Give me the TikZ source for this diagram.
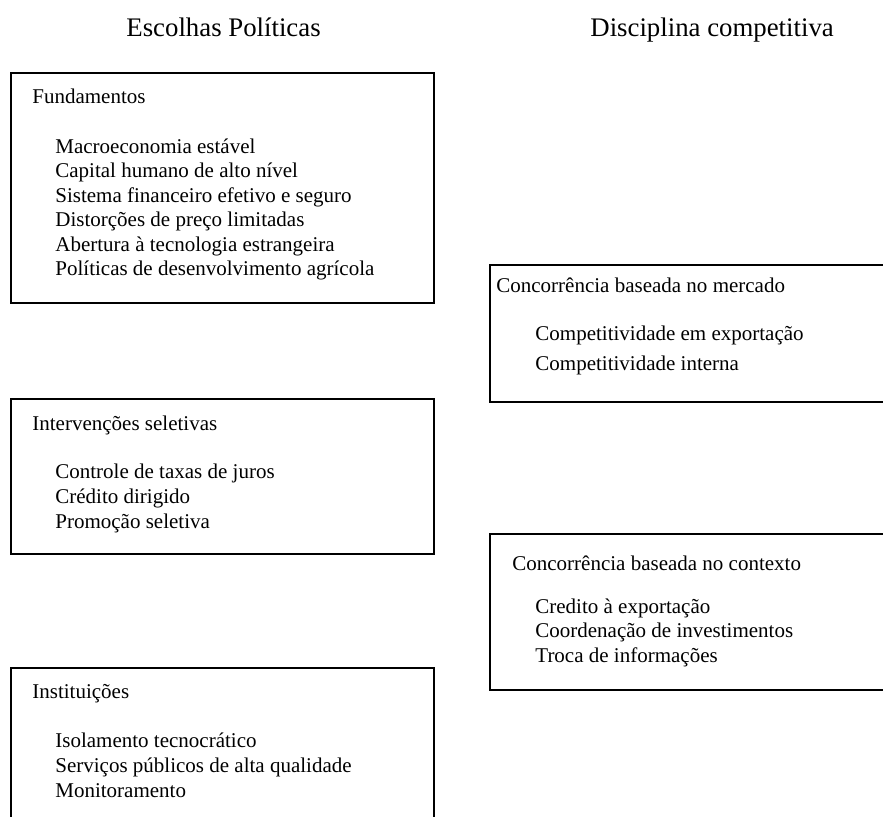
\documentclass[tikz,border=0pt]{standalone}
\usepackage{fontspec}
\setmainfont{Liberation Serif}
\usetikzlibrary{positioning}

\begin{document}
\begin{tikzpicture}[x=0.5pt, y=-0.5pt,
    panel/.style={draw, line width=1.1pt, anchor=north west, inner sep=0pt},
    title/.style={anchor=base west, inner sep=0pt, font=\fontsize{13.4}{16}\selectfont},
    head/.style={anchor=base west, inner sep=0pt, font=\fontsize{10.5}{12}\selectfont}]

        \useasboundingbox (0,0) rectangle (883,816);
        \clip (0,0) rectangle (883,816);

        % Column titles
        \node[title] (esc) at (126,36) {Escolhas Políticas};
        \node[title] (dis) at (590,36) {Disciplina competitiva};

        % Left column
        \node[panel, minimum width=211.5pt, minimum height=115pt] (fund) at (10,72) {};
        \node[head] (fundh) at (32,103) {Fundamentos};
        \foreach \txt [count=\k] in {Macroeconomia estável, Capital humano de alto nível,
                Sistema financeiro efetivo e seguro, Distorções de preço limitadas,
                Abertura à tecnologia estrangeira, Políticas de desenvolvimento agrícola}
            \node[head] (fund\k) at (55,128.5+24.5*\k) {\txt};

        \node[panel, minimum width=211.5pt, minimum height=77.5pt] (inter) at (10,398) {};
        \node[head] (interh) at (32,430) {Intervenções seletivas};
        \foreach \txt [count=\k] in {Controle de taxas de juros, Crédito dirigido, Promoção seletiva}
            \node[head] (inter\k) at (55,453+25*\k) {\txt};

        \node[panel, minimum width=211.5pt, minimum height=85pt] (inst) at (10,667) {};
        \node[head] (insth) at (32,698) {Instituições};
        \foreach \txt [count=\k] in {Isolamento tecnocrático, Serviços públicos de alta qualidade, Monitoramento}
            \node[head] (inst\k) at (55,722+25*\k) {\txt};

        % Right column
        \node[panel, minimum width=210pt, minimum height=68.5pt] (merc) at (489,264) {};
        \node[head] (merch) at (496,292) {Concorrência baseada no mercado};
        \foreach \txt [count=\k] in {Competitividade em exportação, Competitividade interna}
            \node[head] (merc\k) at (535,310+30*\k) {\txt};

        \node[panel, minimum width=210pt, minimum height=78pt] (cont) at (489,533) {};
        \node[head] (conth) at (512,570) {Concorrência baseada no contexto};
        \foreach \txt [count=\k] in {Credito à exportação, Coordenação de investimentos, Troca de informações}
            \node[head] (cont\k) at (535,588.5+24.5*\k) {\txt};
    \end{tikzpicture}
\end{document}
